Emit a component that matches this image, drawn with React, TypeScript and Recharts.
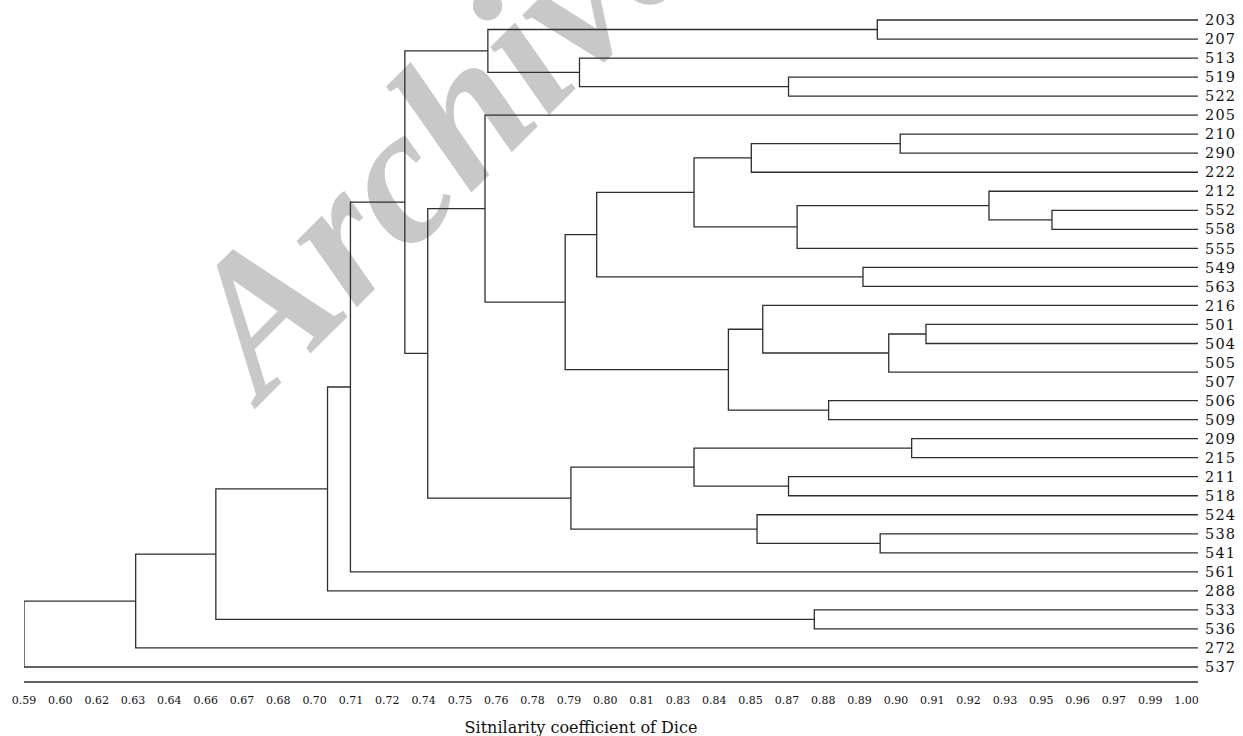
import React from 'react'
import { ScatterChart, Scatter, XAxis, YAxis } from 'recharts'

// leaf order, top to bottom
const leaves = [
  '203', '207', '513', '519', '522', '205', '210', '290', '222', '212',
  '552', '558', '555', '549', '563', '216', '501', '504', '505', '507',
  '506', '509', '209', '215', '211', '518', '524', '538', '541', '561',
  '288', '533', '536', '272', '537',
]

// each merge joins two nodes (leaf name or cN = result of merge N)
const merges: [string, string][] = [
  ['203', '207'], // c1
  ['519', '522'], // c2
  ['513', 'c2'], // c3
  ['c1', 'c3'], // c4
  ['210', '290'], // c5
  ['c5', '222'], // c6
  ['552', '558'], // c7
  ['212', 'c7'], // c8
  ['c8', '555'], // c9
  ['c6', 'c9'], // c10
  ['549', '563'], // c11
  ['c10', 'c11'], // c12
  ['501', '504'], // c13
  ['505', '507'], // c14
  ['c13', 'c14'], // c15
  ['216', 'c15'], // c16
  ['506', '509'], // c17
  ['c16', 'c17'], // c18
  ['c12', 'c18'], // c19
  ['205', 'c19'], // c20
  ['209', '215'], // c21
  ['211', '518'], // c22
  ['c21', 'c22'], // c23
  ['538', '541'], // c24
  ['524', 'c24'], // c25
  ['c23', 'c25'], // c26
  ['c20', 'c26'], // c27
  ['c4', 'c27'], // c28
  ['c28', '561'], // c29
  ['c29', '288'], // c30
  ['533', '536'], // c31
  ['c30', 'c31'], // c32
  ['c32', '272'], // c33
  ['c33', '537'], // c34
]

const mergeSimilarity = [
  0.888, 0.857, 0.784, 0.752, 0.896, 0.844, 0.949, 0.927, 0.86, 0.824,
  0.883, 0.79, 0.905, 1.0, 0.892, 0.848, 0.871, 0.836, 0.779, 0.751,
  0.9, 0.857, 0.824, 0.889, 0.846, 0.781, 0.731, 0.723, 0.704, 0.696,
  0.866, 0.657, 0.629, 0.59,
]

const tickLabels = [
  '0.59', '0.60', '0.62', '0.63', '0.64', '0.66', '0.67', '0.68', '0.70', '0.71', '0.72',
  '0.74', '0.75', '0.76', '0.78', '0.79', '0.80', '0.81', '0.83', '0.84', '0.85', '0.87',
  '0.88', '0.89', '0.90', '0.91', '0.92', '0.93', '0.95', '0.96', '0.97', '0.99', '1.00',
]

const X_MIN = 0.59
const X_MAX = 1.0
const TICK_COUNT = 32
const LABEL_END = 0.996

const LINE = '#2e2e2e'
const FONT = '"DejaVu Serif", serif'

type Pt = { x: number; y: number }

// positions of nodes: leaves sit at similarity 1, clusters at their merge level
const nodes: Record<string, Pt> = {}
leaves.forEach((name, i) => {
  nodes[name] = { x: 1, y: i }
})
const brackets: Pt[][] = []
merges.forEach(([a, b], i) => {
  const h = mergeSimilarity[i]
  const A = nodes[a]
  const B = nodes[b]
  nodes[`c${i + 1}`] = { x: h, y: (A.y + B.y) / 2 }
  if (h >= 1) return // identical profiles share one line
  brackets.push([
    { x: A.x, y: A.y },
    { x: h, y: A.y },
    { x: h, y: B.y },
    { x: B.x, y: B.y },
  ])
})

const markTicks = Array.from({ length: TICK_COUNT }, (_, k) => X_MIN + (k * (X_MAX - X_MIN)) / (TICK_COUNT - 1))
const labelStep = (LABEL_END - X_MIN) / (tickLabels.length - 1)
const labelTicks = tickLabels.map((_, k) => X_MIN + k * labelStep)

export default function App() {
  return (
    <div style={{ position: 'relative', width: 1243, height: 736, background: '#fff' }}>
      <style>{'body{margin:0;overflow:hidden}'}</style>
      <svg width={1243} height={736} style={{ position: 'absolute', left: 0, top: 0 }}>
        <text
          transform="translate(262 402) rotate(-45)"
          fontFamily='"Liberation Serif", serif'
          fontStyle="italic"
          fontWeight="bold"
          fontSize={195}
          fill="#c8c8c8"
        >
          Archive
        </text>
      </svg>
      <div style={{ position: 'absolute', left: 0, top: 0 }}>
        <ScatterChart width={1243} height={736} margin={{ top: 20, right: 0, bottom: 0, left: 24 }}>
          <XAxis
            xAxisId="b"
            type="number"
            dataKey="x"
            domain={[X_MIN, X_MAX]}
            allowDataOverflow
            ticks={labelTicks}
            interval={0}
            tickFormatter={(v: number) => tickLabels[Math.round((v - X_MIN) / labelStep)]}
            tickSize={0}
            tickMargin={6}
            height={46}
            axisLine={false}
            tickLine={false}
            tick={{ fontFamily: FONT, fontSize: 11, fill: '#111' }}
            label={{
              value: 'Sitnilarity coefficient of Dice',
              position: 'insideBottom',
              offset: 3,
              dx: -30,
              style: { fontFamily: FONT, fontSize: 16, fill: '#111' },
            }}
          />
          <XAxis
            xAxisId="a"
            type="number"
            dataKey="x"
            domain={[X_MIN, X_MAX]}
            allowDataOverflow
            ticks={markTicks}
            interval={0}
            tick={false}
            tickSize={8}
            height={8}
            axisLine={{ stroke: LINE, strokeWidth: 1.3 }}
            tickLine={{ stroke: LINE, strokeWidth: 1.3 }}
          />
          <YAxis
            type="number"
            dataKey="y"
            orientation="right"
            width={45}
            domain={[0, leaves.length - 1]}
            reversed
            padding={{ top: 0, bottom: 15 }}
            ticks={leaves.map((_, i) => i)}
            interval={0}
            tickFormatter={(v: number) => leaves[v]}
            tickSize={0}
            tickMargin={7}
            axisLine={false}
            tickLine={false}
            tick={{ fontFamily: FONT, fontSize: 14.5, fill: '#111', style: { letterSpacing: '1.2px' } }}
          />
          {brackets.map((pts, i) => (
            <Scatter
              key={i}
              xAxisId="a"
              data={pts}
              line={{ stroke: LINE, strokeWidth: 1.3 }}
              lineJointType="linear"
              shape={() => <g />}
              isAnimationActive={false}
            />
          ))}
        </ScatterChart>
      </div>
    </div>
  )
}
